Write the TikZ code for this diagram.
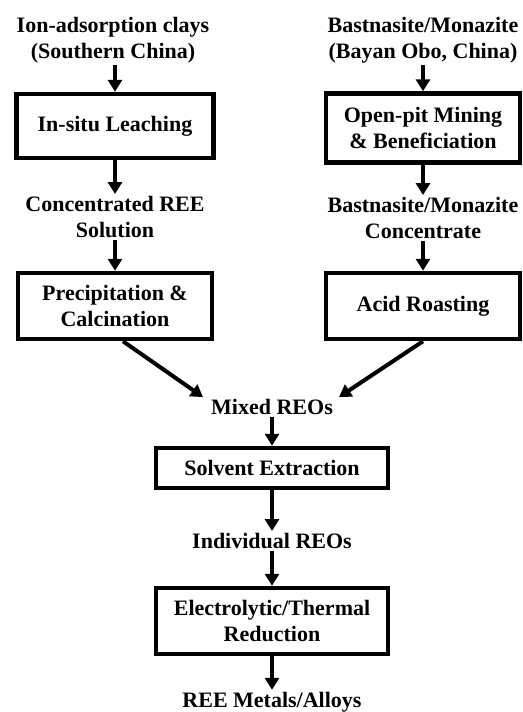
\documentclass[tikz,border=0pt]{standalone}
\usepackage{fontspec}
\setmainfont{Liberation Serif}
\usetikzlibrary{arrows.meta}

\tikzset{
    txt/.style={align=center, inner sep=2pt, font=\fontsize{22}{26}\selectfont\bfseries},
    procbox/.style={txt, draw, line width=4.5pt, minimum width=194pt, minimum height=66pt},
    arr/.style={line width=4pt, -{Triangle[length=12pt,width=14pt]}}
}

\begin{document}
\begin{tikzpicture}[x=1pt,y=-1pt]
            \useasboundingbox (0,0) rectangle (522,712);

            % left branch: ion-adsorption clays
            \node[txt] (src1) at (113,40) {Ion-adsorption clays\\(Southern China)};
            \node[procbox, minimum width=197pt, minimum height=64pt] (leach) at (115,126) {In-situ Leaching};
            \node[txt] (conc) at (115,217) {Concentrated REE\\Solution};
            \node[procbox] (precip) at (115,306) {Precipitation \&\\Calcination};

            % right branch: bastnasite/monazite
            \node[txt] (src2) at (423,40) {Bastnasite/Monazite\\(Bayan Obo, China)};
            \node[procbox, minimum height=69pt] (mine) at (423,128) {Open-pit Mining\\\& Beneficiation};
            \node[txt] (bconc) at (423,218) {Bastnasite/Monazite\\Concentrate};
            \node[procbox] (roast) at (423,306) {Acid Roasting};

            % common trunk
            \node[txt] (mixed) at (272,407) {Mixed REOs};
            \node[procbox, minimum width=232pt, minimum height=40pt] (solv) at (272,468) {Solvent Extraction};
            \node[txt] (indiv) at (272,541) {Individual REOs};
            \node[procbox, minimum width=232pt] (redu) at (272,621) {Electrolytic/Thermal\\Reduction};
            \node[txt] (metals) at (272,702) {REE Metals/Alloys};

            \draw[arr] (src1.south -| leach.north) -- (leach.north);
            \draw[arr] (leach.south) -- (leach.south |- conc.north);
            \draw[arr] (conc.south) -- (precip.north);
            \draw[arr] (src2.south) -- (mine.north);
            \draw[arr] (mine.south) -- (bconc.north);
            \draw[arr] (bconc.south) -- (roast.north);
            \draw[arr] ([xshift=8pt]precip.south) -- ([xshift=-6pt]mixed.north west);
            \draw[arr] (roast.south) -- ([xshift=4pt]mixed.north east);
            \draw[arr] (mixed.south) -- (solv.north);
            \draw[arr] (solv.south) -- (indiv.north);
            \draw[arr] (indiv.south) -- (redu.north);
            \draw[arr] (redu.south) -- (metals.north);
        \end{tikzpicture}
\end{document}
